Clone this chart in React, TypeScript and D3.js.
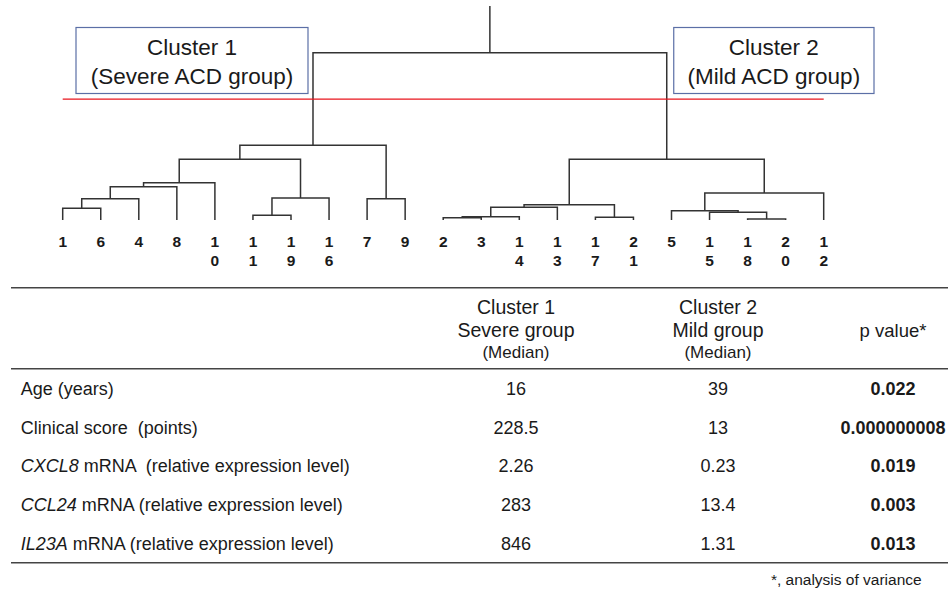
import * as d3 from 'd3';

// leaves in the order they are drawn (left to right)
const leafOrder = [1, 6, 4, 8, 10, 11, 19, 16, 7, 9, 2, 3, 14, 13, 17, 21, 5, 15, 18, 20, 12];

// hclust-style merge table: negative = leaf number, positive = earlier merge row (1-based)
const mergeLeft = [-18, -2, -17, 2, -11, -15, -5, -1, 4, 9, 8, -7, 5, 7, 11, 15, 16, 10, 17, 19];
const mergeRight = [-20, -3, -21, -14, -19, 1, 6, -6, -13, 3, -4, -9, -16, -12, -8, -10, 13, 14, 12, 18];
const mergeHeight = [0.06, 0.14, 0.16, 0.2, 0.28, 0.46, 0.56, 0.7, 0.76, 0.91, 1.27, 1.27, 1.31, 1.61, 1.99, 2.23, 3.63, 3.63, 4.47, 10];
const cutHeight = 7.23;
const maxHeight = 12.8;

const clusterTitles = ['Cluster 1', 'Cluster 2'];
const clusterSubtitles = ['(Severe ACD group)', '(Mild ACD group)'];

// table
const headerLine1 = ['Cluster 1', 'Cluster 2', ''];
const headerLine2 = ['Severe group', 'Mild group', 'p value*'];
const headerLine3 = ['(Median)', '(Median)', ''];
const rowGene = ['', '', 'CXCL8', 'CCL24', 'IL23A'];
const rowLabel = ['Age (years)', 'Clinical score  (points)', ' mRNA  (relative expression level)', ' mRNA (relative expression level)', ' mRNA (relative expression level)'];
const severeMedian = ['16', '228.5', '2.26', '283', '846'];
const mildMedian = ['39', '13', '0.23', '13.4', '1.31'];
const pValue = ['0.022', '0.000000008', '0.019', '0.003', '0.013'];
const footnote = '*, analysis of variance';

const W = 950;
const H = 590;
const font = "'Liberation Sans', Arial, Helvetica, sans-serif";
const ink = '#1a1a1a';
const lineColor = '#333';

export default function App() {
  const x = d3.scalePoint<number>().domain(leafOrder).range([62.7, 823.7]);
  const y = d3.scaleLinear().domain([0, maxHeight]).range([220, 6]);

  // node positions
  const nodeX: number[] = [];
  const nodeH: number[] = [];
  const posX = (id: number) => (id < 0 ? (x(-id) as number) : nodeX[id - 1]);
  const posH = (id: number) => (id < 0 ? 0 : nodeH[id - 1]);
  const links: string[] = [];
  mergeLeft.forEach((a, i) => {
    const b = mergeRight[i];
    const h = mergeHeight[i];
    const xa = posX(a);
    const xb = posX(b);
    nodeX.push((xa + xb) / 2);
    nodeH.push(h);
    const p = d3.path();
    p.moveTo(xa, y(posH(a)));
    p.lineTo(xa, y(h));
    p.lineTo(xb, y(h));
    p.lineTo(xb, y(posH(b)));
    links.push(p.toString());
  });
  const rootIdx = mergeHeight.length - 1;
  const rootX = nodeX[rootIdx];
  const c1X = nodeX[mergeLeft[rootIdx] - 1];
  const c2X = nodeX[mergeRight[rootIdx] - 1];
  const [xMin, xMax] = x.range();

  // cluster boxes
  const boxes = [
    { x0: 76, x1: c1X - 5, title: clusterTitles[0], sub: clusterSubtitles[0] },
    { x0: c2X + 7, x1: 874, title: clusterTitles[1], sub: clusterSubtitles[1] },
  ];

  const rowY = d3.scaleBand<number>().domain(rowLabel.map((_, i) => i)).range([369, 563]);
  const colX = [516, 718, 893];
  const cols = [severeMedian, mildMedian, pValue];

  return (
    <svg width={W} height={H} style={{ position: 'absolute', left: 0, top: 0, background: '#fff' }} fontFamily={font}>
      <rect width={W} height={H} fill="#fff" />
      {boxes.map((b, i) => (
        <g key={i}>
          <rect x={b.x0} y={27.5} width={b.x1 - b.x0} height={66} fill="#fff" stroke="#5b6fa6" strokeWidth={1.2} />
          <text x={(b.x0 + b.x1) / 2} y={55} textAnchor="middle" fontSize={22.5} fill={ink}>{b.title}</text>
          <text x={(b.x0 + b.x1) / 2} y={83.5} textAnchor="middle" fontSize={22.5} fill={ink}>{b.sub}</text>
        </g>
      ))}
      <g fill="none" stroke={lineColor} strokeWidth={1.5}>
        {links.map((d, i) => <path key={i} d={d} />)}
        <line x1={rootX} x2={rootX} y1={y(mergeHeight[rootIdx])} y2={y(maxHeight)} />
      </g>
      <line x1={xMin} x2={xMax} y1={y(cutHeight)} y2={y(cutHeight)} stroke="#e8141c" strokeWidth={1.3} />
      <g fontSize={15.5} fontWeight="bold" fill={ink} textAnchor="middle">
        {leafOrder.map((l) => (
          <text key={l} x={x(l)} y={246.7}>
            {String(l).split('').map((c, j) => (
              <tspan key={j} x={x(l)} dy={j === 0 ? 0 : 19.3}>{c}</tspan>
            ))}
          </text>
        ))}
      </g>
      {/* table */}
      <g stroke="#444" strokeWidth={1.6}>
        <line x1={11} x2={948} y1={287.7} y2={287.7} />
        <line x1={11} x2={948} y1={368.7} y2={368.7} />
        <line x1={11} x2={948} y1={562.7} y2={562.7} />
      </g>
      <g fill={ink} textAnchor="middle">
        {colX.map((cx, i) => (
          <g key={i}>
            <text x={cx} y={314} fontSize={19.5}>{headerLine1[i]}</text>
            <text x={cx} y={337} fontSize={i === 2 ? 18.5 : 19.5}>{headerLine2[i]}</text>
            <text x={cx} y={357.5} fontSize={17}>{headerLine3[i]}</text>
          </g>
        ))}
      </g>
      <g fill={ink} fontSize={18}>
        {rowLabel.map((lab, i) => {
          const cy = (rowY(i) as number) + rowY.bandwidth() / 2;
          return (
            <g key={i}>
              <text x={20.7} y={cy + 6.3} style={{ whiteSpace: 'pre' }}>
                {rowGene[i] && <tspan fontStyle="italic">{rowGene[i]}</tspan>}
                <tspan>{lab}</tspan>
              </text>
              {cols.map((c, j) => (
                <text key={j} x={colX[j]} y={cy + 6.3} textAnchor="middle" fontWeight={j === 2 ? 'bold' : 'normal'}>{c[i]}</text>
              ))}
            </g>
          );
        })}
      </g>
      <text x={921.7} y={585} textAnchor="end" fontSize={15.5} fill={ink}>{footnote}</text>
    </svg>
  );
}
